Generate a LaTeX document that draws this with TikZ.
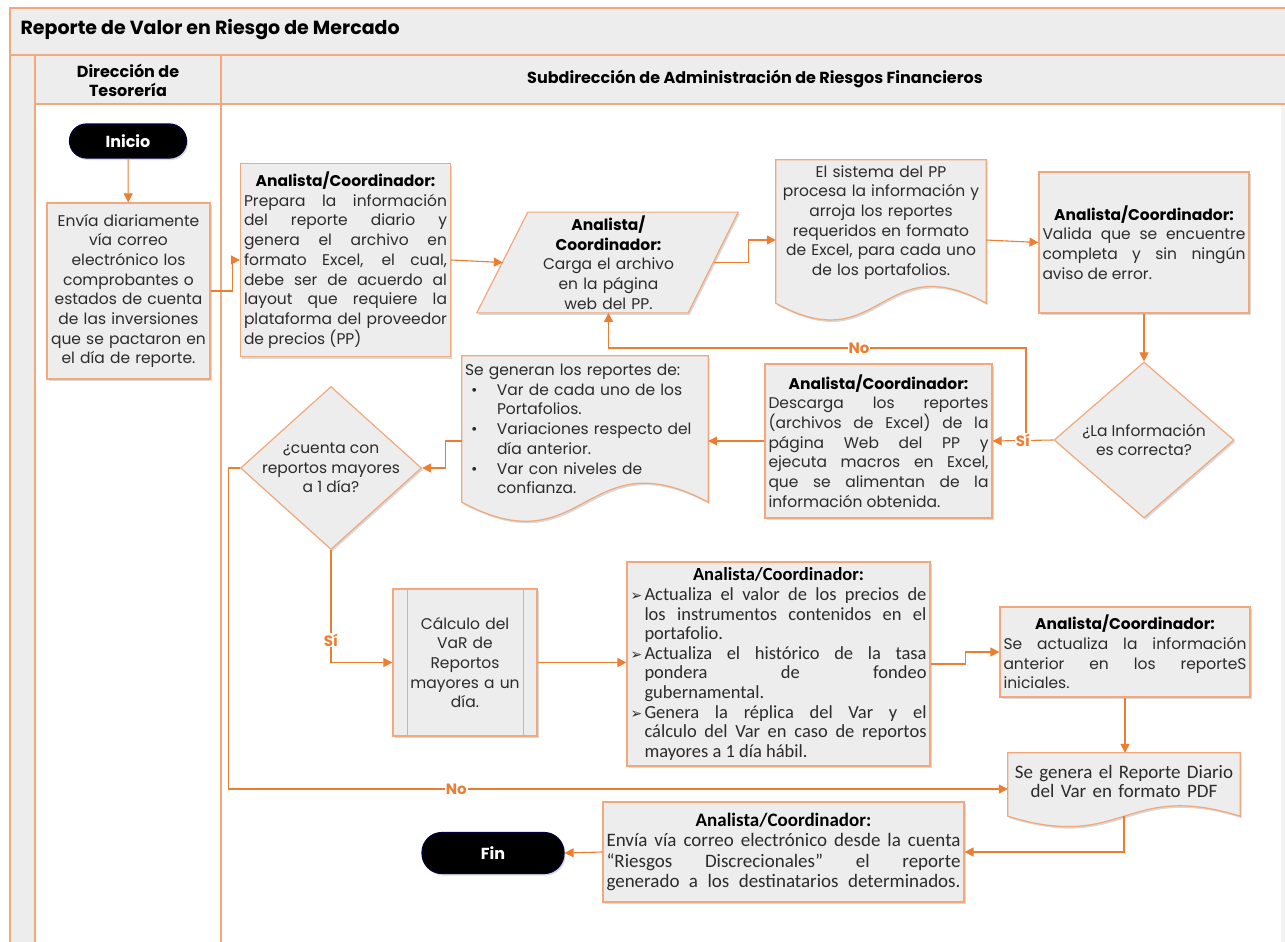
\documentclass[tikz,border=0pt]{standalone}
\usepackage{fontspec}
\setmainfont{Poppins}
\newfontfamily\narrowf{Carlito}
\newfontfamily\symf{DejaVu Sans}
\usetikzlibrary{shapes.geometric,arrows.meta,shadows,calc}
\definecolor{conn}{HTML}{ED7D31}
\definecolor{edgec}{HTML}{F0A87C}
\definecolor{fillg}{HTML}{EDEDED}
\definecolor{txt}{HTML}{2B2B2B}
\pgfdeclarelayer{frame}
\pgfdeclarelayer{shape}
\pgfsetlayers{frame,shape,main}
\newcommand\bodyf{\fontsize{15.5}{19.7}\selectfont}
\newcommand\narf{\narrowf\fontsize{18.5}{19.6}\selectfont}
\newcommand\jl[1]{\makebox[\hsize][s]{#1}\par}
\newcommand\jb[1]{\makebox[\hsize][s]{\makebox[14pt][l]{{\symf\fontsize{14}{14}\selectfont ➢}}#1}\par}
\newcommand\ji[1]{\makebox[\hsize][s]{\hspace{14pt}#1}\par}
\newcommand\li[1]{\makebox[\hsize][l]{\hspace{14pt}#1}\par}
\newcommand\anltitle{{\centering\color{black}\bfseries Analista/Coordinador:\par}}
\newcommand\tb[1]{{\color{black}\bfseries #1}}
\newcommand\docshape[3]{\draw[box] (#1.north west) -- (#1.north east) -- ($(#1.south east)+(0,#2)$) .. controls ($(#1.south)+(0,#2-#3)$) and ($(#1.south)+(0,#2+#3)$) .. ($(#1.south west)+(0,#2)$) -- cycle;}
\begin{document}
\begin{tikzpicture}[x=1pt,y=-1pt,
  every node/.style={text=txt},
  box/.style={draw=edgec, fill=fillg, line width=1.2pt, inner sep=4pt,
    drop shadow={opacity=0.3, shadow xshift=1.5pt, shadow yshift=-2pt}},
  frameline/.style={draw=edgec, line width=1.5pt},
  flow/.style={draw=conn, line width=1.1pt, -{Triangle[length=9pt,width=9pt]}},
  lbl/.style={text=conn, font=\bfseries\fontsize{15}{17}\selectfont, fill=white, inner sep=1pt},
  pill/.style={box, fill=black, draw=black!75!blue, text=white, font=\bfseries\fontsize{16}{18}\selectfont}]
\useasboundingbox (0,0) rectangle (1285,942);

% ---------- frame ----------
\begin{pgfonlayer}{frame}
\fill[fillg] (10,8) rectangle (1285,104);
\fill[fillg] (10,104) rectangle (35,942);
\fill[fillg!70] (1281,104) rectangle (1285,942);
\draw[frameline] (1285,8) -- (10,8) -- (10,942);
\draw[frameline] (10,55) -- (1285,55);
\draw[frameline] (35,104) -- (1285,104);
\draw[frameline] (35,55) -- (35,942);
\draw[frameline] (221,55) -- (221,942);
\end{pgfonlayer}
\node[anchor=west, text=black, font=\bfseries\fontsize{19}{22}\selectfont] (title) at (17,30) {Reporte de Valor en Riesgo de Mercado};
\node[text=black, align=center, font=\bfseries\fontsize{16}{19}\selectfont] (lane1) at (128,80) {Dirección de\\Tesorería};
\node[text=black, font=\bfseries\fontsize{16}{19}\selectfont] (lane2) at (755,79) {Subdirección de Administración de Riesgos Financieros};

% ---------- nodes ----------
\node[pill, minimum width=117, minimum height=34, rounded corners=17] (inicio) at (128,141) {Inicio};

\node[box, minimum width=163, minimum height=176, text width=159, inner sep=2pt, align=center, font=\bodyf] (envia) at (128.5,291)
  {Envía diariamente\\vía correo\\electrónico los\\comprobantes o\\estados de cuenta\\de las inversiones\\que se pactaron en\\el día de reporte.};

\node[box, minimum width=210, minimum height=193, text width=203, inner sep=3.5pt, align=justify, font=\bodyf] (prepara) at (345.5,260)
  {\anltitle\jl{Prepara la información}\jl{del reporte diario y}\jl{genera el archivo en}\jl{formato Excel, el cual,}\jl{debe ser de acuerdo al}\jl{layout que requiere la}\jl{plataforma del proveedor}de precios (PP)};

\node[minimum width=211, minimum height=99, text width=190, align=center, font=\bodyf] (carga) at (608.5,262.5)
  {\tb{Analista/}\\\tb{Coordinador:}\\Carga el archivo\\en la página\\web del PP.};

\node[minimum width=210, minimum height=125, text width=206, inner sep=2pt, align=center, font=\bodyf] (sistema) at (881,222.5)
  {El sistema del PP\\procesa la información y\\arroja los reportes\\requeridos en formato\\de Excel, para cada uno\\de los portafolios.};

\node[box, minimum width=210, minimum height=141, text width=203, inner sep=3.5pt, align=justify, font=\bodyf] (valida) at (1144,242.5)
  {\anltitle\jl{Valida que se encuentre}\jl{completa y sin ningún}aviso de error.};

\node[box, diamond, minimum width=180, minimum height=156, inner sep=-12pt, align=center, font=\bodyf] (dec1) at (1144,440)
  {¿La Información\\es correcta?};

\node[box, minimum width=227, minimum height=154, text width=220, inner sep=3.5pt, align=justify, font=\bodyf] (descarga) at (878.5,441)
  {\anltitle\jl{Descarga los reportes}\jl{(archivos de Excel) de la}\jl{página Web del PP y}\jl{ejecuta macros en Excel,}\jl{que se alimentan de la}información obtenida.};

\node[minimum width=246, minimum height=146, text width=240, inner sep=3pt, align=left, font=\bodyf] (segeneran) at (585,429)
  {Se generan los reportes de:\\
   \makebox[32pt][l]{\hspace{6pt}\textbullet}Var de cada uno de los\\
   \hspace*{32pt}Portafolios.\\
   \makebox[32pt][l]{\hspace{6pt}\textbullet}Variaciones respecto del\\
   \hspace*{32pt}día anterior.\\
   \makebox[32pt][l]{\hspace{6pt}\textbullet}Var con niveles de\\
   \hspace*{32pt}confianza.};

\node[box, diamond, minimum width=181, minimum height=163, inner sep=-14pt, align=center, font=\bodyf] (dec2) at (331,468)
  {¿cuenta con\\reportos mayores\\a 1 día?};

\node[box, minimum width=144, minimum height=147, text width=116, align=center, font=\bodyf] (calculo) at (465,662.5)
  {Cálculo del\\VaR de\\Reportos\\mayores a un\\día.};
\draw[draw=edgec, line width=1.2pt] ([xshift=15pt]calculo.north west) -- ([xshift=15pt]calculo.south west);
\draw[draw=edgec, line width=1.2pt] ([xshift=-14pt]calculo.north east) -- ([xshift=-14pt]calculo.south east);

\node[box, minimum width=303, minimum height=204, text width=296, inner sep=3.5pt, align=justify, font=\narf] (actualiza) at (778.5,664)
  {\anltitle
   \jb{Actualiza el valor de los precios de}\ji{los instrumentos contenidos en el}\li{portafolio.}%
   \jb{Actualiza el histórico de la tasa}\ji{pondera de fondeo}\li{gubernamental.}%
   \jb{Genera la réplica del Var y el}\ji{cálculo del Var en caso de reportos}\li{mayores a 1 día hábil.}};

\node[box, minimum width=250, minimum height=90, text width=243, inner sep=3.5pt, align=justify, font=\bodyf] (seact) at (1125,652)
  {\anltitle\jl{Se actualiza la información}\jl{anterior en los reporteS}iniciales.};

\node[minimum width=232, minimum height=57, text width=228, inner sep=2pt, align=center, font=\narrowf\fontsize{19}{19.6}\selectfont] (segenera) at (1124,781.5)
  {Se genera el Reporte Diario\\del Var en formato PDF};

\node[box, minimum width=361, minimum height=100, text width=354, inner sep=3.5pt, align=justify, font=\narrowf\fontsize{19}{20.5}\selectfont] (enviafin) at (783.5,852)
  {\anltitle\jl{Envía vía correo electrónico desde la cuenta}\jl{“Riesgos Discrecionales” el reporte}\jl{generado a los destinatarios determinados.}};

\node[pill, minimum width=142, minimum height=41, rounded corners=20] (fin) at (493,853) {Fin};

% ---------- drawn outlines for parallelogram and documents ----------
\begin{pgfonlayer}{shape}
\draw[box] ([xshift=25pt]carga.north west) -- ([xshift=24pt]carga.north east) -- ([xshift=-26pt]carga.south east) -- ([xshift=-26pt]carga.south west) -- cycle;
\docshape{sistema}{18}{58}
\docshape{segeneran}{0}{66}
\docshape{segenera}{6}{36}
\end{pgfonlayer}

% ---------- connectors ----------
\draw[flow] (inicio) -- (envia);
\draw[flow] (envia.east) -- ++(21.5,0) |- (prepara.west);
\draw[flow] (prepara.east) -- (carga.west);
\draw[flow] (carga.east) -- ++(34,0) |- ([yshift=-17.5pt]sistema.west);
\draw[flow] ([yshift=-17.5pt]sistema.east) -- (valida.west);
\draw[flow] (valida) -- (dec1);
\coordinate (nob) at (1026,440);
\draw[flow] (nob) -- ++(0,-92) -| (carga.south) node[lbl, pos=0.2] {No};
\draw[flow] (dec1.west) -- (descarga.east) node[lbl, pos=0.5] {Sí};
\draw[flow] (descarga.west) -- (segeneran.east |- descarga.west);
\draw[flow] (segeneran.west |- descarga.west) -- ++(-16,0) |- (dec2.east);
\draw[flow] (dec2.south) |- (calculo.west) node[lbl, pos=0.4] {Sí};
\draw[flow] (dec2.west) -- ++(-11,0) |- ([yshift=-7.5pt]segenera.west) node[lbl, pos=0.646] {No};
\draw[flow] (calculo.east) -- (actualiza.west |- calculo.east);
\draw[flow] (actualiza.east) -- ++(35,0) |- (seact.west);
\draw[flow] (seact.south) -- (seact.south |- segenera.north);
\draw[flow] ([yshift=-6pt]segenera.south) |- (enviafin.east);
\draw[flow] (enviafin.west) -- (fin.east);
\end{tikzpicture}
\end{document}
